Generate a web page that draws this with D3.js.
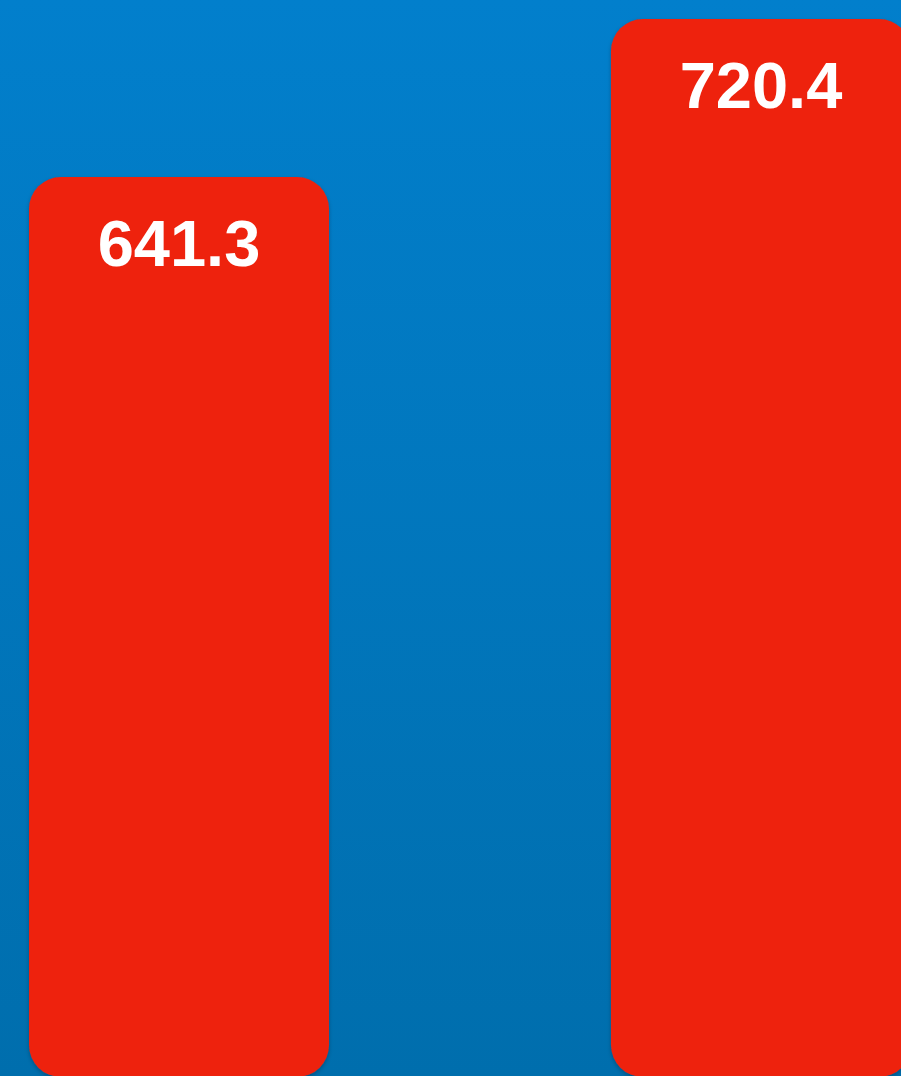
<!DOCTYPE html>
<html>
<head>
<meta charset="utf-8">
<script src="https://cdn.jsdelivr.net/npm/d3@7"></script>
<style>
  html, body { margin: 0; padding: 0; overflow: hidden; }
  svg { display: block; }
</style>
</head>
<body>
<svg id="chart"></svg>
<script>
// chart data
const categories = ["A", "B"];
const values = [641.3, 720.4];
const labels = ["641.3", "720.4"];

const width = 901;
const height = 1076;

const svg = d3.select("#chart")
    .attr("width", width)
    .attr("height", height);

const defs = svg.append("defs");

// background gradient
const bg = defs.append("linearGradient")
    .attr("id", "bg")
    .attr("x1", 0).attr("y1", 0)
    .attr("x2", 0).attr("y2", 1);
bg.append("stop").attr("offset", "0%").attr("stop-color", "#027fcc");
bg.append("stop").attr("offset", "100%").attr("stop-color", "#006ead");

// soft shadow under the bars
const shadow = defs.append("filter")
    .attr("id", "shadow")
    .attr("x", "-10%").attr("y", "-10%")
    .attr("width", "120%").attr("height", "120%");
shadow.append("feDropShadow")
    .attr("dx", 0).attr("dy", 2)
    .attr("stdDeviation", 2)
    .attr("flood-color", "#000")
    .attr("flood-opacity", 0.25);

svg.append("rect")
    .attr("width", width)
    .attr("height", height)
    .attr("fill", "url(#bg)");

// scales - value axis does not start at zero, bars run off the bottom edge
const x = d3.scaleBand()
    .domain(categories)
    .range([29, 911])
    .paddingInner(0.4845)
    .paddingOuter(0);

const baseline = 1077;
const y = d3.scaleLinear()
    .domain([190.7, 729.9])
    .range([baseline, 0]);

const data = categories.map((c, i) => ({ cat: c, value: values[i], label: labels[i] }));

// bars
svg.selectAll(".bar")
    .data(data)
    .enter().append("rect")
    .attr("class", "bar")
    .attr("x", d => x(d.cat))
    .attr("y", d => y(d.value))
    .attr("width", x.bandwidth())
    .attr("height", d => baseline - y(d.value))
    .attr("rx", 32)
    .attr("ry", 32)
    .attr("fill", "#ee230c")
    .attr("filter", "url(#shadow)");

// value labels
svg.selectAll(".label")
    .data(data)
    .enter().append("text")
    .attr("class", "label")
    .attr("x", d => x(d.cat) + x.bandwidth() / 2)
    .attr("y", d => y(d.value) + 89)
    .attr("text-anchor", "middle")
    .attr("font-family", "'Liberation Sans', Arial, Helvetica, sans-serif")
    .attr("font-weight", "bold")
    .attr("font-size", 65)
    .attr("fill", "#fff")
    .text(d => d.label);
</script>
</body>
</html>
